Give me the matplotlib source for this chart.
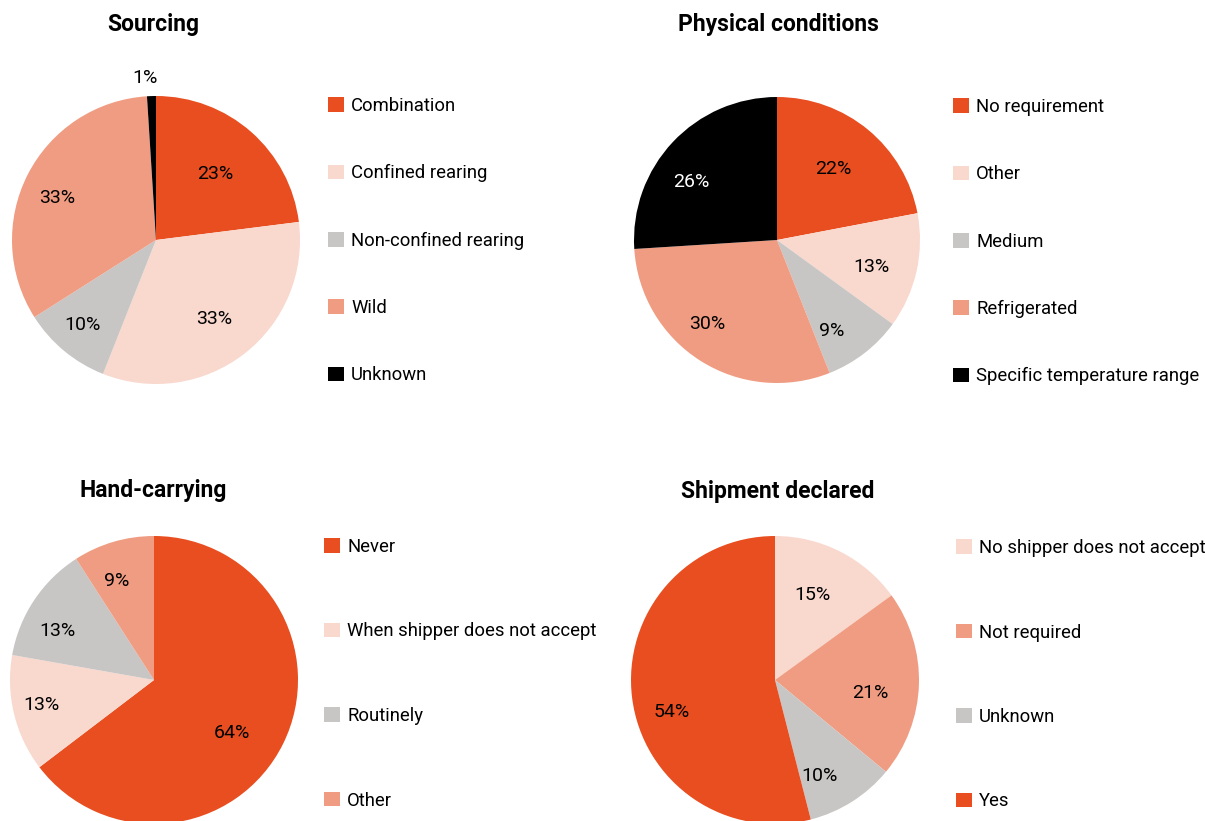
import matplotlib
matplotlib.use("Agg")
import matplotlib.pyplot as plt
from matplotlib.patches import Patch
import numpy as np

plt.rcParams['font.family'] = ['Roboto', 'DejaVu Sans']

ORANGE = '#E84E20'
PINK = '#F9D8CE'
GREY = '#C8C6C4'
SALMON = '#F09C82'
BLACK = '#000000'

# data
sourcing_labels = ['Combination', 'Confined rearing', 'Non-confined rearing', 'Wild', 'Unknown']
sourcing_values = [23, 33, 10, 33, 1]
sourcing_colors = [ORANGE, PINK, GREY, SALMON, BLACK]

physical_labels = ['No requirement', 'Other', 'Medium', 'Refrigerated', 'Specific temperature range']
physical_values = [22, 13, 9, 30, 26]
physical_colors = [ORANGE, PINK, GREY, SALMON, BLACK]

hand_labels = ['Never', 'When shipper does not accept', 'Routinely', 'Other']
hand_values = [64, 13, 13, 9]
hand_colors = [ORANGE, PINK, GREY, SALMON]

shipment_labels = ['No shipper does not accept', 'Not required', 'Unknown', 'Yes']
shipment_values = [15, 21, 10, 54]
shipment_colors = [PINK, SALMON, GREY, ORANGE]

# layout for the % labels: distance from centre (fraction of radius) and
# angular nudge in degrees (positive = further clockwise)
sourcing_label_r = [0.625, 0.67, 0.77, 0.75, 1.14]
sourcing_label_da = [0, 1, 2, -3, -2]
physical_label_r = [0.64, 0.68, 0.73, 0.75, 0.73]
physical_label_da = [-2, 2, 6, 8, -8]
hand_label_r = [0.65, 0.80, 0.76, 0.75]
hand_label_da = [7, 2, -6, -4]
shipment_label_r = [0.66, 0.67, 0.72, 0.75]
shipment_label_da = [-4, 5, 7, -9]

W, H = 1205, 821
fig = plt.figure(figsize=(W / 100, H / 100), dpi=100)


def draw_panel(title, labels, values, colors, label_r, label_da, cx, cy, r,
               title_x, title_y, leg_x, leg_y, leg_spacing):
    ax = fig.add_axes([(cx - r) / W, 1 - (cy + r) / H, 2 * r / W, 2 * r / H])
    wedges, _ = ax.pie(values, colors=colors, startangle=90, counterclock=False,
                       radius=1, wedgeprops=dict(linewidth=0))
    for w, v, c, d, da in zip(wedges, values, colors, label_r, label_da):
        mid = np.deg2rad((w.theta1 + w.theta2) / 2 - da)
        # white text only when it sits inside a black wedge
        tc = 'white' if (c == BLACK and d < 1) else 'black'
        ax.text(d * np.cos(mid), d * np.sin(mid), f'{v}%',
                ha='center', va='center_baseline', fontsize=14, color=tc)
    ax.set_xlim(-1, 1)
    ax.set_ylim(-1, 1)
    ax.set_aspect('equal')
    ax.axis('off')

    fig.text(title_x / W, 1 - title_y / H, title, ha='center', va='baseline',
             fontsize=16.5, fontweight='bold')

    handles = [Patch(facecolor=c, edgecolor='none') for c in colors]
    fig.legend(handles, labels, loc='upper left',
               bbox_to_anchor=(leg_x / W, 1 - leg_y / H),
               bbox_transform=fig.transFigure, frameon=False,
               fontsize=13.3, handlelength=0.85, handleheight=0.85,
               handletextpad=0.4, borderpad=0, borderaxespad=0,
               labelspacing=leg_spacing)


draw_panel('Sourcing', sourcing_labels, sourcing_values, sourcing_colors,
           sourcing_label_r, sourcing_label_da, 156, 240, 144, 153, 31, 328, 97, 2.67)
draw_panel('Physical conditions', physical_labels, physical_values, physical_colors,
           physical_label_r, physical_label_da, 777, 240, 143, 778, 31, 953, 98, 2.67)
draw_panel('Hand-carrying', hand_labels, hand_values, hand_colors,
           hand_label_r, hand_label_da, 154, 680, 144, 153, 497, 324, 538, 3.6)
draw_panel('Shipment declared', shipment_labels, shipment_values, shipment_colors,
           shipment_label_r, shipment_label_da, 775, 680, 144, 778, 498, 956, 539, 3.6)

fig.savefig('out.png', dpi=100)
